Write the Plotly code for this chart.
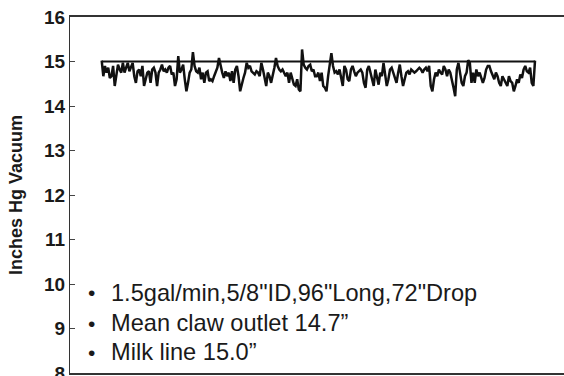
import numpy as np
import plotly.graph_objects as go

# Claw outlet vacuum trace (inches Hg), one reading per sample
claw_outlet = [
    15.02, 14.67, 14.90, 14.75, 14.86, 14.63, 14.67, 14.90, 14.45, 14.75,
    14.93, 14.82, 14.75, 14.97, 14.75, 14.86, 14.97, 14.78, 14.90, 14.97,
    14.67, 14.52, 14.78, 14.82, 14.67, 14.90, 14.45, 14.63, 14.75, 14.78,
    14.52, 14.82, 14.86, 14.75, 14.45, 14.75, 14.82, 14.93, 14.78, 14.82,
    14.75, 14.86, 14.90, 14.71, 14.75, 14.45, 14.60, 15.12, 14.75, 14.82,
    14.93, 14.60, 14.33, 14.52, 14.75, 14.82, 15.21, 14.90, 14.78, 14.75,
    14.86, 14.60, 14.75, 14.52, 14.75, 14.78,
    14.56, 14.60, 14.56, 14.67, 14.78, 14.86, 15.08, 14.90, 14.75, 14.63,
    14.78, 14.67, 14.75, 14.56, 14.78, 14.52, 14.82, 14.90, 14.67, 14.33,
    14.52, 14.63, 14.75, 14.97, 14.86, 14.90, 14.78, 14.75, 14.71, 14.78,
    14.75, 14.67, 14.97, 14.82, 14.67, 14.45, 14.75, 14.67, 14.52, 14.67,
    14.86, 15.08, 14.90, 14.82, 14.78, 14.82, 14.75, 14.67, 14.75, 14.52,
    14.75, 14.60, 14.48, 14.45, 14.60, 14.37, 14.33, 15.27, 14.93, 14.86,
    14.82, 14.90, 14.93, 14.78, 14.82, 14.67,
    14.67, 14.75, 14.56, 14.75, 14.45, 14.41, 14.33, 14.67, 14.97, 15.19,
    14.90, 14.75, 14.78, 14.71, 14.82, 14.60, 14.45, 14.90, 14.82, 14.60,
    14.56, 14.82, 14.90, 14.78, 14.67, 14.75, 14.78, 14.82, 14.75, 14.52,
    14.41, 14.82, 14.90, 14.75, 14.60, 14.45, 14.82, 14.67, 14.48, 14.75,
    14.67, 14.97, 14.75, 14.45, 14.60, 14.82, 14.86, 14.75, 14.67, 14.52,
    14.75, 14.93, 14.67, 14.45, 14.60, 14.75, 14.78, 14.71, 14.82, 14.78,
    14.75, 14.78, 14.82, 14.86, 14.82, 14.75,
    14.82, 14.86, 14.78, 14.90, 14.45, 14.33, 14.60, 14.75, 14.67, 14.82,
    14.75, 14.71, 14.90, 14.82, 14.67, 14.82, 14.75, 14.60, 14.41, 14.22,
    14.82, 14.97, 14.75, 14.52, 14.45, 14.67, 14.75, 15.03, 14.97, 14.52,
    14.75, 14.52, 14.82, 14.67, 14.75, 14.60, 14.52, 14.63, 14.82, 14.90,
    14.90, 14.78, 14.67, 14.60, 14.75, 14.67, 14.52, 14.45, 14.67, 14.60,
    14.52, 14.45, 14.67, 14.56, 14.52, 14.33, 14.45, 14.60, 14.52, 14.71,
    14.63, 14.82, 14.90, 14.78, 14.75, 14.86, 14.52, 14.45, 15.02,
]
milk_line_level = 15.0
y_ticks = [8, 9, 10, 11, 12, 13, 14, 15, 16]
notes = [
    "1.5gal/min,5/8\"ID,96\"Long,72\"Drop",
    "Mean claw outlet 14.7\u201d",
    "Milk line 15.0\u201d",
]
note_levels = [9.80, 9.12, 8.47]

samples = np.arange(len(claw_outlet))
n = len(claw_outlet)

W, H = 564, 376
ML, MT, MB = 70, 17, 3
plot_w = W - ML
# first and last samples sit inside the frame, leaving a left gutter
x_first_px, x_last_px = 101.7, 535.0
px_per_sample = (x_last_px - x_first_px) / (n - 1)
x_lo = -(x_first_px - ML) / px_per_sample
x_hi = x_lo + plot_w / px_per_sample

FONT = "Liberation Sans, Arial, sans-serif"

fig = go.Figure()
fig.add_trace(go.Scatter(
    x=[samples[0], samples[-1]], y=[milk_line_level, milk_line_level],
    mode="lines", line=dict(color="#111111", width=1.8), hoverinfo="skip",
))
fig.add_trace(go.Scatter(
    x=samples, y=claw_outlet, mode="lines",
    line=dict(color="#111111", width=2.5), hoverinfo="skip",
))

for lvl, txt in zip(note_levels, notes):
    fig.add_annotation(x=(91 - ML) / plot_w, xref="paper", y=lvl, yref="y",
                       text="\u2022", showarrow=False, xanchor="center",
                       font=dict(size=21, color="#1a1a1a", family=FONT))
    fig.add_annotation(x=(109 - ML) / plot_w, xref="paper", y=lvl, yref="y",
                       text=txt, showarrow=False, xanchor="left",
                       font=dict(size=23.6, color="#1a1a1a", family=FONT))

fig.update_layout(
    width=W, height=H,
    margin=dict(l=ML, r=0, t=MT, b=MB, autoexpand=False),
    paper_bgcolor="white", plot_bgcolor="white",
    showlegend=False,
    font=dict(family=FONT, color="#1a1a1a"),
)
fig.update_xaxes(
    range=[x_lo, x_hi], showgrid=False, zeroline=False,
    showticklabels=False, ticks="", automargin=False,
    showline=True, mirror=True, linecolor="#333333", linewidth=1.6,
)
fig.update_yaxes(
    range=[8, 16], tickvals=y_ticks, ticktext=[str(t) for t in y_ticks],
    showgrid=False, zeroline=False, automargin=False,
    ticks="inside", ticklen=5, tickcolor="#444444", tickwidth=1,
    showline=True, linecolor="#333333", linewidth=1.2,
    ticklabeloverflow="allow",
    tickfont=dict(size=19, weight="bold", color="#1a1a1a", family=FONT),
    title=dict(text="Inches Hg Vacuum", standoff=16,
               font=dict(size=18, weight="bold", color="#1a1a1a", family=FONT)),
)

fig.write_html("out.html")
